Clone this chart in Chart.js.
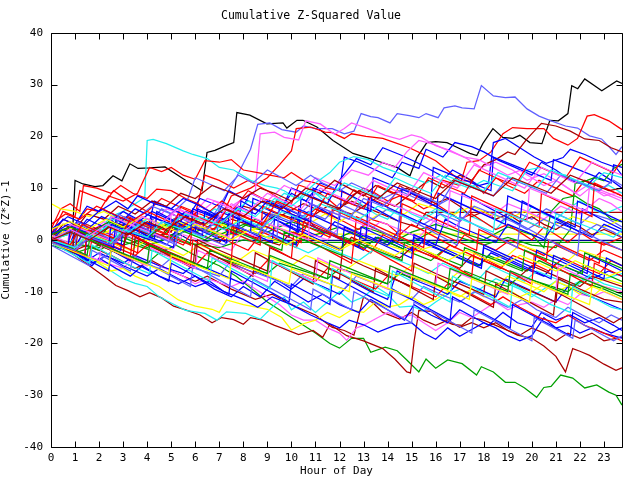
<!DOCTYPE html>
<html>
<head>
<meta charset="utf-8">
<script src="https://cdn.jsdelivr.net/npm/chart.js@4/dist/chart.umd.min.js"></script>
<style>
  body { margin: 0; background: #fff; }
  #wrap { width: 640px; height: 480px; }
</style>
</head>
<body>
<div id="wrap"><canvas id="chart" width="640" height="480"></canvas></div>
<script>
// Axis ticks
const hourTicks = [0, 1, 2, 3, 4, 5, 6, 7, 8, 9, 10, 11, 12, 13, 14, 15, 16, 17, 18, 19, 20, 21, 22, 23];
const valueTicks = [-40, -30, -20, -10, 0, 10, 20, 30, 40];

// Each run: [hour, cumulative (Z*Z)-1]
const black1 = [[0,0.5],[0.5,2],[0.9,1.5],[1.0,11.5],[1.33,10.8],[1.83,10.3],[2.16,10.5],[2.58,12.4],[2.95,11.4],[3.28,14.7],[3.62,13.8],[4.12,13.9],[4.74,14.1],[5.5,11.8],[6.28,9.5],[6.49,16.9],[6.82,17.3],[7.32,18.3],[7.6,18.8],[7.73,24.6],[8.27,24.1],[8.98,22.4],[9.65,22.6],[9.81,21.6],[10.23,23.1],[10.48,23.1],[11.06,21.8],[11.73,19.2],[12.56,16.7],[13.14,15.9],[13.8,14.9],[14.39,14.0],[14.93,12.4],[15.22,15.9],[15.63,18.8],[16.0,19.0],[16.47,18.8],[16.88,17.9],[17.42,16.7],[17.71,16.3],[17.96,18.6],[18.38,21.5],[18.79,19.8],[19.21,19.6],[19.5,20.2],[19.92,18.8],[20.42,18.6],[20.75,23.1],[21.1,23.0],[21.5,24.4],[21.66,29.8],[21.91,29.2],[22.2,31.1],[22.91,28.8],[23.53,30.7],[23.75,30.2]];
const lblue1 = [[0,0],[1,-1.5],[1.5,2.5],[2.5,1],[3,4],[4,2.5],[4.6,6],[5.5,4],[6.5,3],[7,6.5],[7.7,12],[8.3,17.5],[8.6,22.3],[9.1,22.6],[9.6,21.3],[10.2,20.8],[10.5,22],[11.0,21.5],[11.7,21.5],[12.2,20.5],[12.6,21],[12.9,24.4],[13.3,23.8],[13.6,23.6],[14.1,22.6],[14.4,24.4],[14.9,24],[15.3,23.6],[15.6,24.4],[16.1,23.6],[16.35,25.5],[16.8,25.9],[17.1,25.5],[17.6,25.3],[17.9,29.8],[18.4,27.8],[18.9,27.5],[19.3,27.6],[19.8,25.3],[20.3,23.9],[20.8,23],[21.4,22],[21.9,21.6],[22.4,20.1],[22.9,19.5],[23.25,17.8],[23.5,16.5],[23.75,18]];
const cyan1 = [[0,0],[0.5,2],[1,1],[1.5,3],[2,2],[2.5,4.5],[3,5.5],[3.5,7],[3.9,8.2],[4.0,19.2],[4.25,19.4],[4.8,18.6],[5.5,17.2],[5.9,16.5],[6.5,15.7],[7,14],[7.6,13.5],[8.3,11.5],[8.9,10.5],[9.4,10],[9.7,9.5],[10.2,8],[10.7,7.5],[11,9],[11.5,7],[12,6],[12.5,8.5],[13,6.5],[13.5,5],[14,4],[14.5,6.5],[15,5],[15.5,4],[16,5.5],[16.5,4],[17,6],[17.5,4.5],[18,3.5],[18.5,2],[19,4.5],[19.5,3],[20,6.5],[20.5,5],[21,4],[21.5,6],[22,7.5],[22.5,6],[23,5],[23.75,6.5]];
const red1 = [[0,1],[0.5,5.5],[1,4.5],[1.2,9.5],[1.7,8.6],[2.3,7.5],[2.6,9.5],[3.3,7.3],[4,5.5],[4.6,8],[5.3,6.5],[6,5],[6.4,12.5],[7,11.5],[7.6,10],[8.2,11.5],[9,9.5],[9.5,8],[10,7],[10.3,10.6],[11,9.5],[11.5,8],[12,6],[12.6,9.7],[13.3,8],[14,6.5],[14.5,10.5],[15.1,8.7],[15.8,7],[16.3,11.5],[17,10.5],[17.3,15],[17.8,15.3],[18.3,17],[18.8,20.5],[19.2,21.7],[19.8,21.5],[20.5,21.5],[20.9,19.6],[21.5,18.3],[21.9,19.6],[22.3,23.9],[22.6,24.2],[23.2,23],[23.75,21.3]];
const red2 = [[0,0],[0.8,-1.5],[1.2,3.5],[2,2],[2.8,0.5],[3.2,4.5],[4,3],[5,1.5],[5.4,6.5],[6.2,5],[7,3.5],[7.5,8.5],[8.3,10],[9,12],[9.5,14.5],[10,17.2],[10.2,21.5],[10.8,21.8],[11.4,20.8],[11.7,20.7],[12.2,19.6],[12.5,20.5],[13.1,20],[13.8,19.6],[14.3,18.8],[14.9,17.8],[15.4,16.7],[16,15.3],[16.5,13.4],[17,11.5],[17.5,11.3],[18,9],[18.5,12],[19,10.5],[19.7,9],[20.3,11.5],[21,10],[21.7,8.5],[22.2,11.5],[23,10],[23.75,8.5]];
const mag1 = [[0,0.5],[1,-1],[1.5,2],[2.5,0],[3,3.5],[4,2],[4.8,6],[5.8,4.5],[6.5,8],[7.5,6.5],[8.5,9.5],[8.7,20.5],[9.3,20.8],[9.7,19.8],[10.3,19.3],[10.6,23],[11.2,22.4],[11.8,20.4],[12.2,21.5],[12.5,22.6],[13.2,21.5],[13.9,20.2],[14.5,19.4],[15,20.3],[15.4,19.8],[16,18.2],[16.6,17.3],[17.3,15.7],[17.9,14],[18.5,15],[19.2,13.5],[19.8,11.5],[20.5,12.8],[21.2,11],[21.8,9],[22.3,10.5],[23,8.5],[23.75,9.2]];
const blue1 = [[0,0],[0.7,-2],[1.1,3],[2,1],[2.6,4.5],[3.3,3],[4,1.5],[4.3,7.5],[5,6],[5.7,4.5],[6.2,8],[7,6.5],[7.8,5],[8.3,9],[9,7.5],[9.6,6],[10,10],[10.8,8.5],[11.5,7],[12,11.5],[12.7,15.7],[13.3,14.5],[13.8,17.8],[14.5,16.5],[15.2,15],[15.8,13.5],[16.4,12],[16.7,13.5],[17.3,12],[17.8,10.5],[18.2,11],[18.4,18.8],[18.9,19.6],[19.5,17.8],[20.1,16],[20.6,14.8],[21.3,15.9],[21.6,17.5],[22.2,16.5],[22.9,15],[23.5,14],[23.75,12.5]];
const blue2 = [[0,0.5],[1,-1.5],[1.4,2],[2.2,0.5],[3,-1],[3.4,3],[4.2,1.5],[5,0],[5.5,4.5],[6.2,3],[7,5.5],[7.4,9.5],[8,8],[8.7,6.5],[9.4,5],[10,9],[10.6,7.5],[11.2,11],[12,9.5],[12.2,16],[12.8,15],[13.5,13.5],[14.2,12],[14.6,15],[15.3,13.8],[15.6,17.5],[16.3,16],[16.8,18.8],[17.5,18],[18,17],[18.6,15.4],[19.3,14],[20,12.5],[20.4,15],[21,13.5],[21.6,11.5],[22.3,10.5],[22.8,13],[23.3,11.5],[23.75,10]];
const green1 = [[0,0],[1,-1],[2,-1.5],[2.5,0.5],[3.5,-1],[4.5,-2.5],[5.2,-1],[6,-3],[7,-5],[7.7,-7],[8.5,-10],[9,-12],[10,-15],[11,-18],[11.6,-20],[12,-20.9],[12.5,-19],[13,-19],[13.3,-21.7],[13.9,-20.7],[14.4,-21.4],[14.8,-23.2],[15.3,-25.5],[15.6,-23],[16,-24.8],[16.5,-23.2],[17.1,-23.9],[17.7,-26.1],[17.9,-24.5],[18.4,-25.5],[18.9,-27.5],[19.3,-27.5],[19.7,-28.6],[20.2,-30.4],[20.5,-28.5],[20.8,-28.3],[21.2,-26.1],[21.7,-26.7],[22.2,-28.6],[22.7,-28],[23.2,-29.4],[23.5,-30],[23.75,-31.9]];
const dred1 = [[0,0],[0.5,-1.5],[1,-3],[1.6,-5],[2.2,-7],[2.7,-8.8],[3.2,-9.8],[3.7,-11],[4.1,-10.2],[4.6,-11.2],[5.1,-12.8],[5.6,-13.5],[6.2,-14.5],[6.7,-16],[7.1,-15],[7.6,-15.4],[8,-16.3],[8.3,-15],[8.8,-15.5],[9.3,-16.5],[9.7,-17.2],[10.3,-18.3],[10.9,-17.5],[11.3,-18.8],[11.6,-16.3],[12.3,-18.5],[13,-19.5],[13.8,-21],[14.3,-23],[14.8,-25.5],[14.95,-25.7],[15.1,-19.7],[15.3,-13.6],[15.8,-13.8],[16.3,-15.5],[16.7,-16.3],[17.1,-16.5],[17.5,-15],[18,-15.5],[18.5,-16.5],[19,-17.5],[19.4,-18.4],[20.0,-19],[20.5,-20.5],[21,-22.5],[21.4,-25.5],[21.7,-21],[22.0,-21.5],[22.4,-22.3],[23.0,-24],[23.5,-25.2],[23.75,-24.7]];
const dred2 = [[0,0],[1,-2],[1.5,-1],[2.5,-3],[3.5,-5.5],[4.2,-4],[5,-6],[6,-8],[6.5,-7],[7.5,-9.5],[8.5,-11.5],[9.2,-10.5],[10,-12.5],[11,-14.5],[11.7,-16.9],[12.2,-17.5],[12.6,-18.4],[13.0,-11],[13.4,-12.2],[13.8,-14],[14.5,-15.3],[15,-14],[15.5,-15.5],[16,-16.5],[16.5,-15.5],[17,-16.9],[17.5,-16],[18,-17],[18.5,-16],[19,-17.5],[19.5,-18.4],[20,-17],[20.5,-18],[21,-19.5],[21.5,-18],[22,-19],[22.5,-18],[23,-19.5],[23.75,-18.8]];
const mag2 = [[0,0],[1,-2],[2,-4],[3,-5.5],[3.5,-3],[4.5,-5],[5.5,-7],[6,-8.5],[6.5,-7.5],[7.5,-9],[8,-8],[8.5,-9.5],[9,-11],[9.5,-12.5],[10,-14.5],[10.5,-15.5],[11,-15.5],[11.5,-17],[12,-18],[12.3,-19.4],[12.7,-17],[13,-16.5],[13.6,-15],[14,-14],[14.5,-15],[15,-14.5],[15.5,-16],[16,-17.5],[16.5,-16],[17,-14],[17.5,-15],[18,-13.5],[18.5,-12],[19,-13.5],[19.5,-12.5],[20,-12],[20.5,-13],[21,-11.5],[21.5,-12.5],[22,-10.5],[22.5,-11],[23,-10],[23.75,-11.5]];
const cyan2 = [[0,0],[1,-2.5],[2,-4.5],[2.5,-6],[3,-7.5],[3.5,-8.4],[4,-9],[4.5,-11],[5,-12.2],[5.6,-13.6],[6.4,-14.2],[6.9,-15.5],[7.3,-13.9],[8.1,-14.2],[8.7,-15.3],[9.2,-13],[9.7,-11],[10,-13.5],[10.5,-12],[11,-14],[11.5,-12],[12,-10],[12.5,-12],[13,-11],[13.5,-9],[14,-10.5],[14.5,-13],[15,-12.8],[15.5,-13.7],[16,-12],[16.5,-10.5],[17,-9.5],[17.5,-10.5],[18,-9],[18.5,-7.5],[19,-8.5],[19.5,-9.5],[20,-11],[20.5,-9.5],[21,-8],[21.5,-9],[22,-8],[22.5,-6.5],[23,-7.5],[23.75,-6.5]];
const yellow1 = [[0,0],[0.8,-1.5],[1.5,-3],[2,-4.5],[2.5,-6],[3,-5.5],[3.5,-7],[4,-8],[4.5,-9],[5.3,-11.6],[6,-12.8],[6.7,-13.4],[7,-14],[7.3,-11.6],[8,-12.5],[9,-13.4],[9.6,-15],[10,-17.4],[10.5,-16.2],[11,-15.5],[11.5,-14],[12,-15],[12.5,-13.5],[13,-14],[13.5,-12],[14,-13],[14.5,-12.5],[15,-11],[15.5,-12.5],[16,-11.5],[16.5,-10],[17,-11],[17.5,-9.5],[18,-11],[18.5,-10.5],[19,-9.5],[19.5,-11],[20,-10],[20.5,-8.5],[21,-10],[21.5,-9],[22,-10.5],[22.5,-9],[23,-7.5],[23.75,-8.5]];
const blue3 = [[0,0],[1,-2],[1.7,-4.5],[2.3,-3],[3,-5],[4,-7],[4.5,-5.5],[5.3,-7.5],[6,-9],[6.6,-8],[7.2,-10],[8,-11.5],[8.6,-13],[9.2,-11],[10,-12.5],[10.8,-14.5],[11.5,-16],[12,-17],[12.4,-15.5],[13,-16.4],[13.6,-17.8],[14.3,-16.5],[15,-16],[15.5,-18],[16,-19.2],[16.5,-17],[17,-18.6],[17.5,-17.3],[18,-16],[18.5,-17],[19,-18.5],[19.5,-19.5],[20,-18.5],[20.5,-15],[21,-17],[21.5,-16.5],[22,-18],[22.5,-17],[23,-18],[23.75,-19]];
const blue4 = [[0,0],[0.5,-1],[1,-2.5],[1.7,-5],[2,-3.5],[2.7,-5.5],[3.3,-7],[3.8,-5],[4.5,-7],[5.3,-8.5],[6,-7],[6.8,-9.5],[7.5,-11],[8,-9],[8.7,-11],[9.3,-8],[10,-10],[10.7,-12],[11.3,-10.5],[12,-12.5],[12.8,-14],[13.3,-11.5],[14,-13.5],[14.7,-15.5],[15.1,-12.5],[15.8,-14.5],[16.5,-16],[17,-13.5],[17.6,-15],[18.2,-16.5],[18.8,-14],[19.4,-16],[20,-16.8],[20.4,-14],[21,-15.5],[21.6,-14.5],[22.2,-16],[22.8,-15],[23.4,-16.5],[23.75,-17.5]];
const green2 = [[0,0],[1,1.5],[2,-0.5],[3,1],[4,-1],[5,0.5],[6,2.5],[7,1],[8,3],[9,1.5],[10,3.5],[11,2],[12,0.5],[13,2.5],[14,1],[15,-0.5],[16,2],[17,0.5],[18,-1],[19,0.5],[20,-1],[21,-1.5],[21.6,2],[21.8,10.9],[22.3,11.5],[22.6,12],[23,11.4],[23.4,13.8],[23.75,14.6]];
const green3 = [[0,0],[1,-0.5],[2,-2],[3,0.5],[4,-1.5],[5,1],[6,-1],[7,0.5],[8,2],[9,0.5],[10,-1],[11,1],[12,2.5],[13,0.5],[14,-1],[15,1.5],[16,3],[17,1.5],[18,0],[19,2.5],[20,1],[20.5,-1.5],[20.8,5.5],[21.3,8],[21.8,8.5],[22.3,7],[22.8,6],[23.3,4],[23.75,3.5]];
const red3 = [[0,2],[0.4,6],[0.8,7],[1.2,5.5],[1.35,10.5],[1.9,10],[2.5,9],[2.9,10.5],[3.4,9],[4,8],[4.4,9.8],[5,9.5],[5.6,8],[6.1,7],[6.6,5.5],[7.1,7.5],[7.6,6],[8.2,9.5],[8.8,8],[9.5,7],[10,5],[10.5,4],[11,6],[11.5,5],[12.2,3.5],[12.8,2],[13.3,4],[14,3],[14.5,1],[15,3],[15.6,1.5],[16.2,0],[16.8,-1.5],[17.2,1],[17.8,-0.5],[18.5,-2],[19.1,0],[19.8,-1.5],[20.5,-3],[21,-1],[21.7,-2.5],[22.4,-4],[23,-2],[23.75,-3.5]];
const red4 = [[0,0.5],[0.5,4],[1,3],[1.5,6],[2,5.5],[2.4,8.5],[3,7.5],[3.6,9],[4.1,14],[4.6,13.2],[5,14],[5.5,12.5],[6,11.7],[6.4,15.3],[7,15],[7.5,15.5],[8,13.5],[8.6,13],[9.1,12.5],[9.7,12],[10,13],[10.5,11.5],[11,11],[11.5,10],[12,9.5],[12.5,8.5],[13,10],[13.5,9],[14,7.5],[14.5,8.5],[15,7.5],[15.5,6],[16,7],[16.5,5.5],[17,4],[17.5,5],[18,3.5],[18.5,2],[19,3],[19.5,1.5],[20,0],[20.5,2.5],[21,1],[21.5,-0.5],[22,1.5],[22.5,0],[23,-1],[23.75,0.5]];
const mag3 = [[0,0],[1,2],[1.5,1],[2.2,3.5],[3,2],[3.8,4.5],[4.5,3],[5.2,6],[6,4.5],[6.8,7.5],[7.5,6],[8.3,9],[9,7.5],[9.7,10.5],[10.4,9],[11,12],[11.8,10.5],[12.5,13.5],[13.2,12.5],[13.8,15],[14.3,14],[14.8,17],[15.3,19.2],[15.9,18.5],[16.5,17.3],[17.2,16],[17.8,15.5],[18.4,14],[19,12.5],[19.5,13.4],[20,12],[20.5,10.5],[21,11.5],[21.5,10],[22,8.5],[22.4,10],[23,9],[23.75,7.5]];
const mag4 = [[0,-0.5],[1,-2],[1.5,0],[2.5,-1.5],[3,1],[4,-0.5],[5,-2],[5.5,1],[6.5,-0.5],[7.5,-2],[8,1.5],[9,0],[9.5,3],[10.5,1.5],[11.5,0],[12,2.5],[13,1],[13.7,3.5],[14.5,2],[15.3,0.5],[16,4],[16.8,2.5],[17.5,6],[18.3,4.5],[19,7],[19.8,5.5],[20.5,4],[21.2,6.5],[22,5],[22.8,8],[23.3,7],[23.75,5.5]];
const lblue2 = [[0,0],[1,-1.5],[1.8,1.5],[2.6,0],[3.4,2.5],[4.2,1],[5,-0.5],[5.6,2],[6.4,0.5],[7.2,-1],[7.8,1.5],[8.6,0],[9.3,4],[10,2.5],[10.7,5.5],[11.4,4],[12,7],[12.7,5.5],[13.4,4],[14,6],[14.8,4.5],[15.5,3],[16.2,5],[17,3.5],[17.6,6.5],[18.4,5],[19.2,3.5],[19.8,2],[20.5,4],[21.2,2.5],[22,1],[22.7,3],[23.4,1.5],[23.75,0.5]];
const lblue3 = [[0,-0.5],[1,-2.5],[2,-4],[2.6,-2],[3.5,-4],[4.5,-5.5],[5,-3.5],[6,-5.5],[7,-7],[7.4,-4.5],[8.3,-6],[9.2,-7.5],[10,-9],[10.5,-6.5],[11.3,-8],[12.2,-9.5],[12.7,-7],[13.5,-8.5],[14.3,-10],[15,-11.5],[15.5,-9],[16.2,-10.5],[17,-12],[17.6,-10],[18.3,-11.5],[19,-13],[19.6,-11.5],[20.2,-13.5],[21,-15],[21.5,-13],[22.1,-14.5],[22.8,-16],[23.3,-14.5],[23.75,-15.5]];
const lblue4 = [[0,0],[1,2],[1.5,0.5],[2.3,3],[3,5.5],[3.5,4],[4.2,6.5],[5,5],[5.7,8],[6,12],[6.5,11],[7.2,9.5],[7.8,12.5],[8.4,11],[9,13.5],[9.6,12],[10.2,10.5],[10.8,12.5],[11.3,11],[12,9.5],[12.5,11],[13.2,9.5],[13.8,8],[14.5,9.5],[15.2,8],[16,6.5],[16.6,8],[17.3,6.5],[18,5],[18.7,3.5],[19.3,5.5],[20,4],[20.6,6],[21.3,4.5],[22,3],[22.5,5],[23.2,4],[23.75,2.5]];
const cyan3 = [[0,0.5],[0.7,-1],[1.3,2],[2,0.5],[2.5,4],[3.3,3],[4,1.5],[4.7,3.5],[5.5,2],[6.3,0.5],[7,2.5],[7.8,1],[8.5,-0.5],[9.2,1],[10,-1],[10.7,-2.5],[11.3,-1],[12,-2.5],[12.8,-4],[13.4,-2],[14.2,-3.5],[15,-5],[15.7,-6.5],[16.3,-4.5],[17,-6],[17.8,-7.5],[18.3,-5],[19,-6.5],[19.7,-8],[20.2,-6],[21,-7.5],[21.8,-9],[22.4,-7],[23,-8.5],[23.75,-9.5]];
const cyan4 = [[0,0],[1,1.5],[1.5,0],[2.3,2.5],[3,1],[3.8,3],[4.5,2],[5.3,4.5],[6,3],[6.8,6],[7.5,5],[8.2,7.5],[9,6],[9.7,9],[10.3,8],[11,11],[11.6,13],[12,15],[12.6,16.1],[13.2,15.5],[13.8,14],[14.4,13],[15,12],[15.6,11],[16.2,12.5],[16.8,11],[17.4,10],[18,11.5],[18.6,10.5],[19.2,9.5],[19.8,13.5],[20.4,14],[20.9,13],[21.4,12.5],[22,11],[22.6,9.5],[23.2,10.5],[23.75,9]];
const yellow2 = [[0,7],[0.4,6],[1,5.5],[1.6,4.5],[2.2,5.5],[2.8,4],[3.4,3],[4,4],[4.7,2.5],[5.3,3.5],[6,2],[6.7,3.5],[7.4,2.5],[8,4.5],[8.7,3],[9.3,5],[10,4],[10.7,3],[11.4,5],[12,3.5],[12.7,5.5],[13.3,4],[14,6],[14.7,5],[15.3,7],[16,6],[16.8,5],[17.5,6.5],[18.2,5],[19,4],[19.7,5.5],[20.4,4],[21,3],[21.7,4.5],[22.4,3.5],[23,2.5],[23.75,4]];
const yellow3 = [[0,0],[1,-1],[1.7,1],[2.5,-0.5],[3.3,-2],[4,0],[4.8,-1.5],[5.5,-3],[6.2,-1],[7,-2.5],[7.8,-4],[8.4,-2],[9.2,-3.5],[10,-5],[10.6,-3],[11.4,-4.5],[12.2,-6],[12.8,-4],[13.6,-5.5],[14.4,-7],[15,-5],[15.8,-6.5],[16.5,-8],[17,-6],[17.7,-7.5],[18.5,-9],[19,-7],[19.8,-8.5],[20.5,-10],[21,-8],[21.8,-9.5],[22.5,-11],[23,-9],[23.75,-10]];
const yellow4 = [[0,0.5],[1,2.5],[2,1],[3,2.5],[4,4],[5,2.5],[6,4],[7,3],[8,1.5],[9,3],[10,1.5],[11,0],[12,-1.5],[13,0.5],[14,-1],[15,-2.5],[16,-1],[17,-2.5],[18,-4],[19,-3],[19.5,-1],[20.5,-2.5],[21.5,-4],[22,-2],[23,-3.5],[23.75,-5]];
const green4 = [[0,0.5],[1,2],[2,0],[2.5,3.5],[3.5,2],[4.5,0.5],[5.2,3],[6,1.5],[7,3.5],[7.8,2],[8.5,4],[9.3,2.5],[10,1],[10.7,3],[11.5,1.5],[12.3,0],[13,-1.5],[13.6,0.5],[14.3,-1],[15,-2.5],[15.8,-4],[16.3,-2],[17,-3.5],[17.8,-5],[18.2,-3],[19,-4.5],[19.8,-6],[20.3,-4],[21,-5.5],[21.8,-7],[22.3,-5],[23,-6.5],[23.75,-8]];
const green5 = [[0,-1],[1,-2.5],[2,-1],[3,-3],[4,-4.5],[4.5,-2.5],[5.5,-4],[6.5,-5.5],[7,-3.5],[8,-5],[9,-6.5],[9.5,-4.5],[10.5,-6],[11.5,-7.5],[12,-5.5],[13,-7],[14,-8.5],[14.5,-6.5],[15.5,-8],[16.5,-9.5],[17.2,-6],[18,-7.5],[19,-9],[19.5,-7],[20.5,-8.5],[21.5,-10],[22,-8],[23,-9.5],[23.75,-11]];
const red5 = [[0,0],[1,-1.5],[1.6,1],[2.5,-1],[3.5,-3],[4,-1],[5,-3],[6,-5],[6.5,-2.5],[7.5,-4.5],[8.5,-6.5],[9,-4],[10,-6],[11,-8],[11.5,-5.5],[12.5,-7.5],[13.5,-9.5],[14,-7],[15,-9],[16,-11],[16.5,-8.5],[17.5,-10.5],[18.3,-12.5],[18.8,-11],[19.5,-13],[20.3,-15],[21,-16],[21.5,-14.5],[22.2,-16.5],[23,-18],[23.4,-18.8],[23.75,-19.5]];
const red6 = [[0,0],[0.6,-2],[1,3],[1.6,1.5],[2.3,0],[3,-1.5],[3.3,3.5],[4,2],[4.8,0.5],[5.5,-1],[6,2.5],[6.8,1],[7.5,-0.5],[8.2,-2],[8.8,1.5],[9.5,0],[10.2,-1.5],[10.7,3.5],[11.4,2],[12,0.5],[12.7,-1],[13.3,-2.5],[13.8,1],[14.5,-0.5],[15.2,-2],[16,-3.5],[16.6,-1],[17.3,-2.5],[18,-4],[18.7,-5.5],[19.2,-3],[20,-4.5],[20.7,-6],[21.3,-3.5],[22,-5],[22.8,-6.5],[23.3,-4],[23.75,-5]];
const dred3 = [[0,1],[1,3],[1.5,1.5],[2.5,3.5],[3.5,2],[4.5,0.5],[5,3],[6,1.5],[7,-0.5],[7.5,2],[8.5,0.5],[9.5,-1],[10,1.5],[11,0],[12,-2],[12.5,0.5],[13.5,-1.5],[14.5,-3.5],[15,-1.5],[16,-3.5],[17,-5.5],[17.5,-3],[18.5,-5],[19.5,-7],[20,-5],[21,-7],[22,-9],[22.5,-7],[23.75,-9]];
const dred4 = [[0,0],[0.5,3],[1,2],[1.5,5],[2.2,4],[2.8,6.5],[3.5,5],[4.2,7.5],[4.8,6.5],[5.4,9],[6,8],[6.7,10.5],[7.3,9.5],[8,8],[8.7,10],[9.3,9],[10,7.5],[10.6,10],[11.2,9],[11.8,11.5],[12.4,10],[13,8.5],[13.5,10.5],[14.2,9],[14.8,10],[15.4,8.5],[16,7],[16.5,8],[17,6.5],[17.5,4.5],[18,5.5],[18.5,4],[19,5],[19.5,3.5],[20,4.5],[20.5,3],[21,2],[21.5,3.5],[22,2.5],[22.5,1],[23,2],[23.75,0.5]];
const dred5 = [[0,0],[1,-1.5],[1.5,1],[2.5,-0.5],[3.5,2],[4.5,0.5],[5.5,3],[6.5,1.5],[7.5,4],[8.5,2.5],[9.5,5],[10.5,3.5],[11.5,6.5],[12.5,5],[13.5,8],[14.3,6.5],[15,9],[15.7,11.5],[16.3,10],[17,12.5],[17.5,11.5],[18,14.5],[18.5,15.5],[19,17],[19.3,16.5],[19.8,19.5],[20.4,22.5],[21,22],[21.6,21],[22.2,19.5],[22.8,19.2],[23.3,17.8],[23.75,17]];
const blue5 = [[0,0],[0.5,2],[1,1],[1.5,4],[2.2,2.5],[3,5.5],[3.6,4],[4.4,2.5],[5,5],[5.8,3.5],[6.5,2],[7,5.5],[7.8,4],[8.5,2.5],[9,5],[9.8,3.5],[10.5,2],[11.2,0.5],[11.8,3.5],[12.5,2],[13.3,0.5],[14,-1],[14.5,2],[15.3,0.5],[16,-1],[16.4,4],[17,2.5],[17.8,1],[18.5,-0.5],[19,3],[19.8,1.5],[20.5,0],[21,3.5],[21.8,2],[22.5,0.5],[23,3],[23.75,1.5]];
const blue6 = [[0,-0.5],[1,-2],[1.5,-4],[2,-2.5],[3,-4.5],[3.5,-3],[4.5,-5],[5.5,-6.5],[6,-4.5],[7,-6.5],[8,-8.5],[8.5,-6],[9.5,-8],[10,-9.5],[10.5,-7.5],[11.3,-9],[12,-10.5],[12.5,-8],[13.3,-10],[14,-11.5],[14.4,-6],[15,-7.5],[15.8,-9],[16.5,-10.5],[17,-8],[17.8,-9.5],[18.5,-11],[18.9,-7.5],[19.6,-9],[20.3,-10.5],[21,-12],[21.5,-9],[22.2,-10.5],[23,-12],[23.75,-13.5]];
const blue7 = [[0,1],[0.5,4],[1,3],[1.5,6.5],[2,5.5],[2.7,7.5],[3.2,6],[3.6,8.5],[4.3,7],[5,6],[5.5,8],[6,7],[6.6,5.5],[7.2,4],[7.8,6.5],[8.5,5],[9,7.5],[9.8,6],[10.5,4.5],[11,2.5],[11.7,1],[12.4,-0.5],[13,-2],[13.5,0.5],[14.3,-1],[15,-2.5],[15.4,-0.5],[16.2,-2],[17,-3.5],[17.8,-5],[18.3,-2.5],[19,-4],[19.7,-5.5],[20.5,-7],[21,-4.5],[21.8,-6],[22.5,-7.5],[23.2,-6],[23.75,-7]];
// the dense middle of the tangle
const mid1 = [[0,0],[0.9,-2],[1.0,2.5],[1.8,0.5],[2.6,-1.5],[2.7,4],[3.5,2],[4.3,0],[4.4,5.5],[5.2,3.5],[6,1.5],[6.1,6],[7,4],[7.8,2],[7.9,7.5],[8.7,5.5],[9.5,3.5],[10.3,1.5],[10.4,8],[11.2,6],[12,4],[12.1,9.5],[12.9,7.5],[13.7,5.5],[14.5,3.5],[14.6,10],[15.4,8],[16.2,6],[17,4],[17.1,9],[17.9,7],[18.7,5],[19.5,3],[19.6,7.5],[20.4,5.5],[21.2,3.5],[22,1.5],[22.1,6],[22.9,4],[23.75,2]];
const mid2 = [[0,0],[0.8,-1.8],[1.6,-3.5],[1.7,0.5],[2.5,-1.5],[3.3,-3.5],[3.4,1],[4.2,-1],[5,-3],[5.8,-5],[5.9,0],[6.7,-2],[7.5,-4],[7.6,2.5],[8.4,0.5],[9.2,-1.5],[10,-3.5],[10.1,1.5],[10.9,-0.5],[11.7,-2.5],[12.5,-4.5],[12.6,0],[13.4,-2],[14.2,-4],[15,-6],[15.1,-1],[15.9,-3],[16.7,-5],[17.5,-7],[17.6,-2.5],[18.4,-4.5],[19.2,-6.5],[20,-8.5],[20.1,-3],[20.9,-5],[21.7,-7],[22.5,-9],[22.6,-4.5],[23.75,-7]];
const mid3 = [[0,1],[0.7,-0.5],[0.8,3],[1.6,1.5],[2.4,0],[2.5,4.5],[3.3,3],[4.1,1.5],[4.9,0],[5,5],[5.8,3.5],[6.6,2],[7.4,0.5],[7.5,6],[8.3,4.5],[9.1,3],[9.9,1.5],[10.7,0],[10.8,7],[11.6,5.5],[12.4,4],[13.2,2.5],[13.3,8.5],[14.1,7],[14.9,5.5],[15.7,4],[16.5,2.5],[16.6,9.5],[17.4,8],[18.2,6.5],[19,5],[19.8,3.5],[19.9,10],[20.7,8.5],[21.5,7],[22.3,5.5],[22.4,10.5],[23.2,9],[23.75,8]];
const mid4 = [[0,-0.5],[0.8,-2.5],[1.6,-4.5],[1.7,-1],[2.5,-3],[3.3,-5],[4.1,-6.5],[4.2,-2],[5,-4],[5.8,-6],[6.6,-8],[6.7,-3.5],[7.5,-5.5],[8.3,-7.5],[9.1,-9.5],[9.2,-4],[10,-6],[10.8,-8],[11.6,-10],[11.7,-5.5],[12.5,-7.5],[13.3,-9.5],[14.1,-11],[14.2,-6],[15,-8],[15.8,-10],[16.6,-12],[16.7,-7],[17.5,-9],[18.3,-11],[19.1,-13],[19.2,-8.5],[20,-10.5],[20.8,-12.5],[21.6,-14],[21.7,-9],[22.5,-11],[23.3,-13],[23.75,-13.5]];
const mid5 = [[0,0.5],[1,-1.5],[1.1,3.5],[1.9,1.5],[2.7,-0.5],[2.8,5],[3.6,3],[4.4,1],[5.2,-1],[5.3,4.5],[6.1,2.5],[6.9,0.5],[7,6.5],[7.8,4.5],[8.6,2.5],[9.4,0.5],[9.5,7],[10.3,5],[11.1,3],[11.9,1],[12,6],[12.8,4],[13.6,2],[14.4,0],[14.5,5],[15.3,3],[16.1,1],[16.9,-1],[17,4.5],[17.8,2.5],[18.6,0.5],[19.4,-1.5],[19.5,3],[20.3,1],[21.1,-1],[21.9,-3],[22,2],[22.8,0],[23.75,-2]];
const mid6 = [[0,2],[0.8,3.5],[1.5,2],[2.3,4],[3,2.5],[3.8,4.5],[4.5,3],[5.3,1.5],[6,3],[6.8,1.5],[7.5,0],[8.3,2],[9,0.5],[9.8,-1],[10.5,1],[11.3,-0.5],[12,-2],[12.8,0],[13.5,-1.5],[14.3,-3],[15,-1],[15.8,-2.5],[16.5,-4],[17.3,-2],[18,-3.5],[18.8,-5],[19.5,-3],[20.3,-4.5],[21,-6],[21.8,-4],[22.5,-5.5],[23.2,-7],[23.75,-6]];
const mid7 = [[0,0],[0.8,-1.5],[1.5,-3],[1.6,0],[2.4,-1.5],[3.2,-3],[4,-4.5],[4.1,-1],[4.9,-2.5],[5.7,-4],[6.5,-5.5],[6.6,-2],[7.4,-3.5],[8.2,-5],[9,-6.5],[9.1,-3],[9.9,-4.5],[10.7,-6],[11.5,-7.5],[11.6,-4],[12.4,-5.5],[13.2,-7],[14,-8.5],[14.1,-5],[14.9,-6.5],[15.7,-8],[16.5,-9.5],[16.6,-5.5],[17.4,-7],[18.2,-8.5],[19,-10],[19.1,-6],[19.9,-7.5],[20.7,-9],[21.5,-10.5],[21.6,-6.5],[22.4,-8],[23.2,-9.5],[23.75,-10.5]];
const mid8 = [[0,0.5],[0.9,-1.5],[1,2],[1.8,0],[2.6,-2],[3.4,-4],[3.5,0.5],[4.3,-1.5],[5.1,-3.5],[5.9,-5.5],[6,-1],[6.8,-3],[7.6,-5],[8.4,-7],[8.5,-2.5],[9.3,-4.5],[10.1,-6.5],[10.9,-8.5],[11,-4],[11.8,-6],[12.6,-8],[13.4,-10],[13.5,-5.5],[14.3,-7.5],[15.1,-9.5],[15.9,-11.5],[16,-7],[16.8,-9],[17.6,-11],[18.4,-13],[18.5,-8.5],[19.3,-10.5],[20.1,-12.5],[20.9,-14.5],[21,-10],[21.8,-12],[22.6,-14],[23.4,-16],[23.75,-15]];
const mid9 = [[0,-0.5],[0.7,-2],[1.4,-3.5],[1.5,1],[2.2,-0.5],[2.9,-2],[3,3],[3.7,1.5],[4.4,0],[5.1,-1.5],[5.2,4],[5.9,2.5],[6.6,1],[7.3,-0.5],[7.4,5],[8.1,3.5],[8.8,2],[9.5,0.5],[10.2,-1],[10.3,6],[11,4.5],[11.7,3],[12.4,1.5],[13.1,0],[13.2,8],[13.9,6.5],[14.6,5],[15.3,3.5],[16,2],[16.1,9],[16.8,7.5],[17.5,6],[18.2,4.5],[18.9,3],[19,8.5],[19.7,7],[20.4,5.5],[21.1,4],[21.8,2.5],[21.9,7.5],[22.6,6],[23.3,4.5],[23.75,3.5]];
const mid10 = [[0,3],[0.6,5],[1.2,4],[1.9,6.5],[2.6,5],[3.3,3.5],[4,5.5],[4.7,4],[5.4,2.5],[6.1,4.5],[6.8,3],[7.5,1.5],[7.6,5.5],[8.3,4],[9,2.5],[9.7,1],[10.4,-0.5],[10.5,3.5],[11.2,2],[11.9,0.5],[12.6,-1],[12.7,4.5],[13.4,3],[14.1,1.5],[14.8,0],[15.5,-1.5],[15.6,2.5],[16.3,1],[17,-0.5],[17.7,-2],[17.8,2],[18.5,0.5],[19.2,-1],[19.9,-2.5],[20.6,-4],[20.7,0],[21.4,-1.5],[22.1,-3],[22.8,-4.5],[22.9,-0.5],[23.75,-2]];
const mid11 = [[0,0],[0.8,-2],[1.6,-4],[2.4,-6],[2.5,-2],[3.3,-4],[4.1,-6],[4.9,-8],[5,-4.5],[5.8,-6.5],[6.6,-8.5],[7.4,-10.5],[7.5,-6],[8.3,-8],[9.1,-10],[9.9,-12],[10,-8.5],[10.8,-10.5],[11.6,-12.5],[11.7,-7],[12.5,-9],[13.3,-11],[14.1,-13],[14.2,-9.5],[15,-11.5],[15.8,-13.5],[16.6,-15.5],[16.7,-11],[17.5,-13],[18.3,-15],[19.1,-17],[19.2,-12.5],[20,-14.5],[20.8,-16.5],[21.6,-18.5],[21.7,-14],[22.5,-16],[23.3,-18],[23.75,-17]];
const mid12 = [[0,0],[1,-2],[2,-4],[2.1,-1],[3,-3],[4,-5],[4.1,-1.5],[5,-3.5],[6,-5.5],[6.1,-2],[7,-4],[8,-6],[9,-8],[9.1,-4],[10,-6],[11,-8],[11.1,-3.5],[12,-5.5],[13,-7.5],[14,-9.5],[14.1,-5],[15,-7],[16,-9],[16.1,-4.5],[17,-6.5],[18,-8.5],[19,-10.5],[19.1,-6],[20,-8],[21,-10],[21.1,-5],[22,-7],[23,-9],[23.75,-10]];
const mid13 = [[0,1],[0.7,3],[1.4,1.5],[2.1,4.5],[2.8,3],[3.5,6],[4.2,4.5],[4.9,3],[5.6,5.5],[6.3,4],[7,2.5],[7.7,1],[7.8,5],[8.5,3.5],[9.2,2],[9.9,0.5],[10,4.5],[10.7,3],[11.4,1.5],[12.1,0],[12.8,-1.5],[12.9,2.5],[13.6,1],[14.3,-0.5],[15,-2],[15.1,1],[15.8,-0.5],[16.5,-2],[17.2,-3.5],[17.9,-5],[18,-1],[18.7,-2.5],[19.4,-4],[20.1,-5.5],[20.2,-2],[20.9,-3.5],[21.6,-5],[22.3,-6.5],[22.4,-3],[23.1,-4.5],[23.75,-6]];
const mid14 = [[0,0],[0.8,1.5],[1.6,0],[2.4,3],[3.2,1.5],[4,4],[4.8,2.5],[5.6,5],[6.4,3.5],[7.2,2],[8,4],[8.8,2.5],[9.6,5.5],[10.4,4],[11.2,7],[12,5.5],[12.8,4],[13.6,6.5],[14.4,5],[15.2,3.5],[16,6],[16.8,4.5],[17.6,3],[18.4,1.5],[18.5,6],[19.3,4.5],[20.1,3],[20.9,1.5],[21,5],[21.8,3.5],[22.6,2],[23.4,0.5],[23.75,2]];
const mid15 = [[0,1],[0.8,2.5],[1.6,1],[2.4,3.5],[3.2,2],[4,0.5],[4.8,3],[5.6,1.5],[6.4,0],[7.2,2.5],[8,1],[8.8,-0.5],[9.6,-2],[9.7,1.5],[10.5,0],[11.3,-1.5],[12.1,-3],[12.2,0.5],[13,-1],[13.8,-2.5],[14.6,-4],[14.7,-0.5],[15.5,-2],[16.3,-3.5],[17.1,-5],[17.2,-1.5],[18,-3],[18.8,-4.5],[19.6,-6],[19.7,-2],[20.5,-3.5],[21.3,-5],[22.1,-6.5],[22.2,-2.5],[23,-4],[23.75,-5.5]];
const mid16 = [[0,-1],[0.8,-3],[1.6,-5],[1.7,-2],[2.5,-4],[3.3,-6],[3.4,-3],[4.2,-5],[5,-7],[5.8,-9],[5.9,-5],[6.7,-7],[7.5,-9],[8.3,-11],[8.4,-7.5],[9.2,-9.5],[10,-11.5],[10.8,-13.5],[10.9,-9.5],[11.7,-11.5],[12.5,-13.5],[12.6,-10],[13.4,-12],[14.2,-14],[15,-16],[15.1,-12],[15.9,-14],[16.7,-16],[17.5,-18],[17.6,-13.5],[18.4,-15.5],[19.2,-17.5],[20,-19.5],[20.1,-15],[20.9,-17],[21.7,-19],[21.8,-15.5],[22.6,-17.5],[23.4,-19.5],[23.75,-18.5]];
const mid17 = [[0,0],[0.7,-1.5],[1.4,-3],[1.5,2],[2.2,0.5],[2.9,-1],[3.6,-2.5],[3.7,3.5],[4.4,2],[5.1,0.5],[5.8,-1],[5.9,5],[6.6,3.5],[7.3,2],[8,0.5],[8.7,-1],[8.8,6.5],[9.5,5],[10.2,3.5],[10.9,2],[11.6,0.5],[11.7,6],[12.4,4.5],[13.1,3],[13.8,1.5],[14.5,0],[14.6,7],[15.3,5.5],[16,4],[16.7,2.5],[17.4,1],[17.5,8.5],[18.2,7],[18.9,5.5],[19.6,4],[20.3,2.5],[20.4,9],[21.1,7.5],[21.8,6],[22.5,4.5],[22.6,11],[23.3,9.5],[23.75,8.5]];
const mid18 = [[0,-0.5],[0.8,-2],[1.6,-3.5],[2.4,-5],[2.5,-2],[3.3,-3.5],[4.1,-5],[4.9,-6.5],[5,-3],[5.8,-4.5],[6.6,-6],[7.4,-7.5],[7.5,-4],[8.3,-5.5],[9.1,-7],[9.9,-8.5],[10,-5.5],[10.8,-7],[11.6,-8.5],[12.4,-10],[12.5,-6.5],[13.3,-8],[14.1,-9.5],[14.9,-11],[15,-7],[15.8,-8.5],[16.6,-10],[17.4,-11.5],[17.5,-7.5],[18.3,-9],[19.1,-10.5],[19.9,-12],[20,-8],[20.8,-9.5],[21.6,-11],[22.4,-12.5],[22.5,-9],[23.3,-10.5],[23.75,-11.5]];
const mid19 = [[0,-0.5],[1,-2.5],[1.1,1],[2,-1],[3,-3],[3.1,1.5],[4,-0.5],[5,-2.5],[6,-4.5],[6.1,0],[7,-2],[8,-4],[9,-6],[9.1,-1.5],[10,-3.5],[11,-5.5],[12,-7.5],[12.1,-3],[13,-5],[14,-7],[15,-9],[15.1,-4.5],[16,-6.5],[17,-8.5],[18,-10.5],[18.1,-6],[19,-8],[20,-10],[21,-12],[21.1,-7.5],[22,-9.5],[23,-11.5],[23.75,-12]];
const mid20 = [[0,2],[0.7,4.5],[1.4,3],[2.1,6],[2.8,4.5],[3.5,3],[4.2,5.5],[4.9,4],[5.6,2.5],[6.3,1],[6.4,5.5],[7.1,4],[7.8,2.5],[8.5,1],[9.2,-0.5],[9.3,4],[10,2.5],[10.7,1],[11.4,-0.5],[12.1,-2],[12.2,2.5],[12.9,1],[13.6,-0.5],[14.3,-2],[15,-3.5],[15.1,0.5],[15.8,-1],[16.5,-2.5],[17.2,-4],[17.9,-5.5],[18,-1.5],[18.7,-3],[19.4,-4.5],[20.1,-6],[20.8,-7.5],[20.9,-3],[21.6,-4.5],[22.3,-6],[23,-7.5],[23.1,-3.5],[23.75,-5]];
// runs drifting upward into the 10-18 band on the right
const up1 = [[0,0],[0.8,2],[1.5,0.5],[2.3,3],[3,1.5],[3.8,4.5],[4.5,3],[5.3,6],[6,4.5],[6.7,3],[7.5,7],[8.2,5.5],[9,9],[9.7,7.5],[10.4,6],[11.2,10],[11.9,8.5],[12.6,7],[13.4,11.5],[14.1,10],[14.8,8.5],[15.5,13],[16.2,11.5],[16.9,10],[17.6,14.5],[18.3,13],[19,11.5],[19.7,10],[20.4,14],[21.1,12.5],[21.8,11],[22.5,15],[23.2,13.5],[23.75,12.5]];
const up2 = [[0,0],[0.7,-1.5],[0.8,2],[1.6,0.5],[2.4,-1],[2.5,3],[3.3,1.5],[4.1,0],[4.2,4.5],[5,3],[5.8,1.5],[5.9,6],[6.7,4.5],[7.5,3],[8.3,1.5],[8.4,8],[9.2,6.5],[10,5],[10.8,3.5],[10.9,10],[11.7,8.5],[12.5,7],[13.3,5.5],[13.4,12],[14.2,10.5],[15,9],[15.8,7.5],[15.9,14],[16.7,12.5],[17.5,11],[18.3,9.5],[18.4,16],[19.2,14.5],[20,13],[20.8,11.5],[20.9,15.5],[21.7,14],[22.5,12.5],[23.3,11],[23.4,14.5],[23.75,14]];
const up3 = [[0,0],[1,-1.5],[1.5,1],[2.5,-0.5],[3,2],[4,0.5],[4.6,3.5],[5.5,2],[6.2,4.5],[7,3],[7.8,6],[8.5,4.5],[9.3,8],[10,6.5],[10.8,9.5],[11.5,8],[12.2,11],[13,9.5],[13.7,8],[14.3,12],[15,10.5],[15.8,9],[16.4,12.5],[17.2,11],[18,9.5],[18.6,13],[19.4,11.5],[20.2,10],[20.8,13.5],[21.6,12],[22.4,10.5],[23,13],[23.75,12]];
const up4 = [[0,0.5],[0.8,-1],[1.3,3],[2,1.5],[2.8,0],[3.3,4],[4,2.5],[4.8,1],[5.3,5],[6,3.5],[6.8,2],[7.3,6],[8,4.5],[8.8,3],[9.4,7.5],[10.1,6],[10.9,4.5],[11.5,9],[12.2,7.5],[13,6],[13.6,10.5],[14.3,9],[15.1,7.5],[15.7,12],[16.4,10.5],[17.2,9],[17.8,13.5],[18.5,12],[19.3,10.5],[19.9,15],[20.6,13.5],[21.4,12],[22,16],[22.7,14.5],[23.4,13],[23.75,15.5]];
const up5 = [[0,-0.5],[1,-2],[1.6,0.5],[2.5,-1],[3.2,2],[4,0.5],[4.8,-1],[5.4,2.5],[6.2,1],[7,4],[7.8,2.5],[8.6,1],[9.2,5],[10,3.5],[10.8,7],[11.6,5.5],[12.4,4],[13,8],[13.8,6.5],[14.6,10],[15.4,8.5],[16.2,7],[16.8,11.5],[17.6,10],[18.4,8.5],[19,12],[19.8,10.5],[20.6,9],[21.2,12.5],[22,11],[22.8,9.5],[23.4,11.5],[23.75,10.5]];
const up6 = [[0,0],[0.8,1.5],[1.6,0],[2.4,2.5],[3.2,1],[4,3.5],[4.8,2],[5.6,4.5],[6.4,3],[7.2,6],[8,4.5],[8.8,7.5],[9.6,6],[10.4,9],[11.2,7.5],[12,6],[12.8,9.5],[13.6,8],[14.4,11],[15.2,9.5],[16,8],[16.8,11.5],[17.6,10],[18.4,8.5],[19.2,12],[20,10.5],[20.8,9],[21.6,12.5],[22.4,11],[23.2,9.5],[23.75,10]];
// runs that go flat
const navyFlat = [[0,0],[1,2],[1.5,0.5],[2.5,2.5],[3.5,1],[4.5,-0.5],[5.2,1.5],[5.8,-0.1],[23.75,-0.1]];
const greenFlat = [[0,0],[1,-1],[2,0.5],[3,-1],[4.5,1],[5.5,-0.5],[7,-1.5],[8,0],[8.6,-0.5],[23.75,-0.5]];
const yellowFlat = [[0,0],[1,2],[2,1],[3,3],[4,1.5],[5,3],[6,2],[7.5,1],[9,2.5],[10.5,1.1],[23.75,1.1]];
const dredFlat = [[0,0],[1,3],[2,1],[3,4.5],[4.5,2.5],[5.5,5],[7,3],[8,6.5],[9.5,4.5],[10.5,7],[11.5,5],[12.5,7.5],[13.5,5.5],[14.5,3.5],[15.2,2.5],[15.6,5.3],[23.75,5.3]];

const RED = '#ff0000', GREEN = '#00a000', BLUE = '#0000ff', MAGENTA = '#ff60ff',
      CYAN = '#20f0f0', YELLOW = '#ffff00', LBLUE = '#6060ff', DRED = '#a80000',
      BLACK = '#000000', NAVY = '#000098';

const runs = [
  [up6, DRED], [up3, CYAN], [up1, MAGENTA], [up5, LBLUE], [up4, RED], [up2, BLUE],
  [mid6, YELLOW], [mid18, YELLOW], [mid14, CYAN], [mid4, CYAN], [mid15, GREEN],
  [mid7, GREEN], [mid3, MAGENTA], [mid12, MAGENTA], [mid5, LBLUE], [mid16, LBLUE],
  [mid2, RED], [mid10, RED], [mid17, RED], [mid8, DRED], [mid19, DRED],
  [mid1, BLUE], [mid9, BLUE], [mid11, BLUE], [mid13, BLUE], [mid20, BLUE],
  [yellow3, YELLOW], [green5, GREEN], [cyan3, CYAN], [lblue2, LBLUE], [red6, RED],
  [mag4, MAGENTA], [blue5, BLUE], [dred3, DRED], [yellow4, YELLOW], [green4, GREEN],
  [blue7, BLUE], [lblue3, LBLUE], [red5, RED], [blue6, BLUE], [yellow2, YELLOW],
  [dred4, DRED], [lblue4, LBLUE], [cyan4, CYAN], [mag3, MAGENTA], [red3, RED],
  [red4, RED], [green3, GREEN], [green2, GREEN], [dred5, DRED], [blue4, BLUE],
  [blue3, BLUE], [yellow1, YELLOW], [cyan2, CYAN], [mag2, MAGENTA], [dred2, DRED],
  [blue2, BLUE], [blue1, BLUE], [mag1, MAGENTA], [red2, RED], [red1, RED],
  [cyan1, CYAN], [lblue1, LBLUE], [dred1, DRED], [green1, GREEN], [black1, BLACK],
  [dredFlat, DRED], [yellowFlat, YELLOW], [greenFlat, GREEN], [navyFlat, NAVY]
];

const FONT = 'DejaVu Sans Mono';

// gnuplot-style border with inward ticks on all four sides
const frame = {
  id: 'frame',
  afterDraw(chart) {
    const { ctx, chartArea: a, scales } = chart;
    ctx.save();
    ctx.strokeStyle = '#000';
    ctx.lineWidth = 1;
    ctx.beginPath();
    const L = Math.round(a.left) + 0.5, R = Math.round(a.right) + 0.5;
    const T = Math.round(a.top) + 0.5, B = Math.round(a.bottom) + 0.5;
    ctx.rect(L, T, R - L, B - T);
    hourTicks.forEach(h => {
      const x = Math.round(scales.x.getPixelForValue(h)) + 0.5;
      ctx.moveTo(x, B); ctx.lineTo(x, B - 6);
      ctx.moveTo(x, T); ctx.lineTo(x, T + 6);
    });
    valueTicks.forEach(v => {
      const y = Math.round(scales.y.getPixelForValue(v)) + 0.5;
      ctx.moveTo(L, y); ctx.lineTo(L + 6, y);
      ctx.moveTo(R, y); ctx.lineTo(R - 6, y);
    });
    ctx.stroke();
    ctx.restore();
  }
};

new Chart(document.getElementById('chart'), {
  type: 'line',
  data: {
    datasets: runs.map(([pts, color]) => ({
      data: pts,
      borderColor: color,
      borderWidth: 1.25,
      pointRadius: 0,
      tension: 0,
      fill: false
    }))
  },
  options: {
    responsive: false,
    animation: false,
    devicePixelRatio: 1,
    layout: { padding: { left: 0, right: 18, top: 0, bottom: 0 } },
    plugins: {
      legend: { display: false },
      tooltip: { enabled: false },
      title: {
        display: true,
        text: 'Cumulative Z-Squared Value',
        color: '#000',
        font: { family: FONT, size: 11.5, weight: 'normal' },
        padding: { top: 9, bottom: 10 }
      }
    },
    scales: {
      x: {
        type: 'linear',
        min: 0,
        max: 23.75,
        grid: { display: false, drawTicks: false },
        border: { display: false },
        ticks: {
          stepSize: 1,
          includeBounds: false,
          autoSkip: false,
          maxRotation: 0,
          padding: 5,
          color: '#000',
          font: { family: FONT, size: 11 }
        },
        title: {
          display: true,
          text: 'Hour of Day',
          color: '#000',
          font: { family: FONT, size: 11 },
          padding: { top: 0, bottom: 2 }
        },
        afterFit(scale) { scale.height = 33; }
      },
      y: {
        min: -40,
        max: 40,
        grid: { display: false, drawTicks: false },
        border: { display: false },
        ticks: {
          stepSize: 10,
          padding: 8,
          color: '#000',
          font: { family: FONT, size: 11 }
        },
        title: {
          display: true,
          text: 'Cumulative (Z*Z)-1',
          color: '#000',
          font: { family: FONT, size: 11 },
          padding: { top: 0, bottom: 0 }
        },
        afterFit(scale) { scale.width = 51; }
      }
    }
  },
  plugins: [frame]
});
</script>
</body>
</html>
